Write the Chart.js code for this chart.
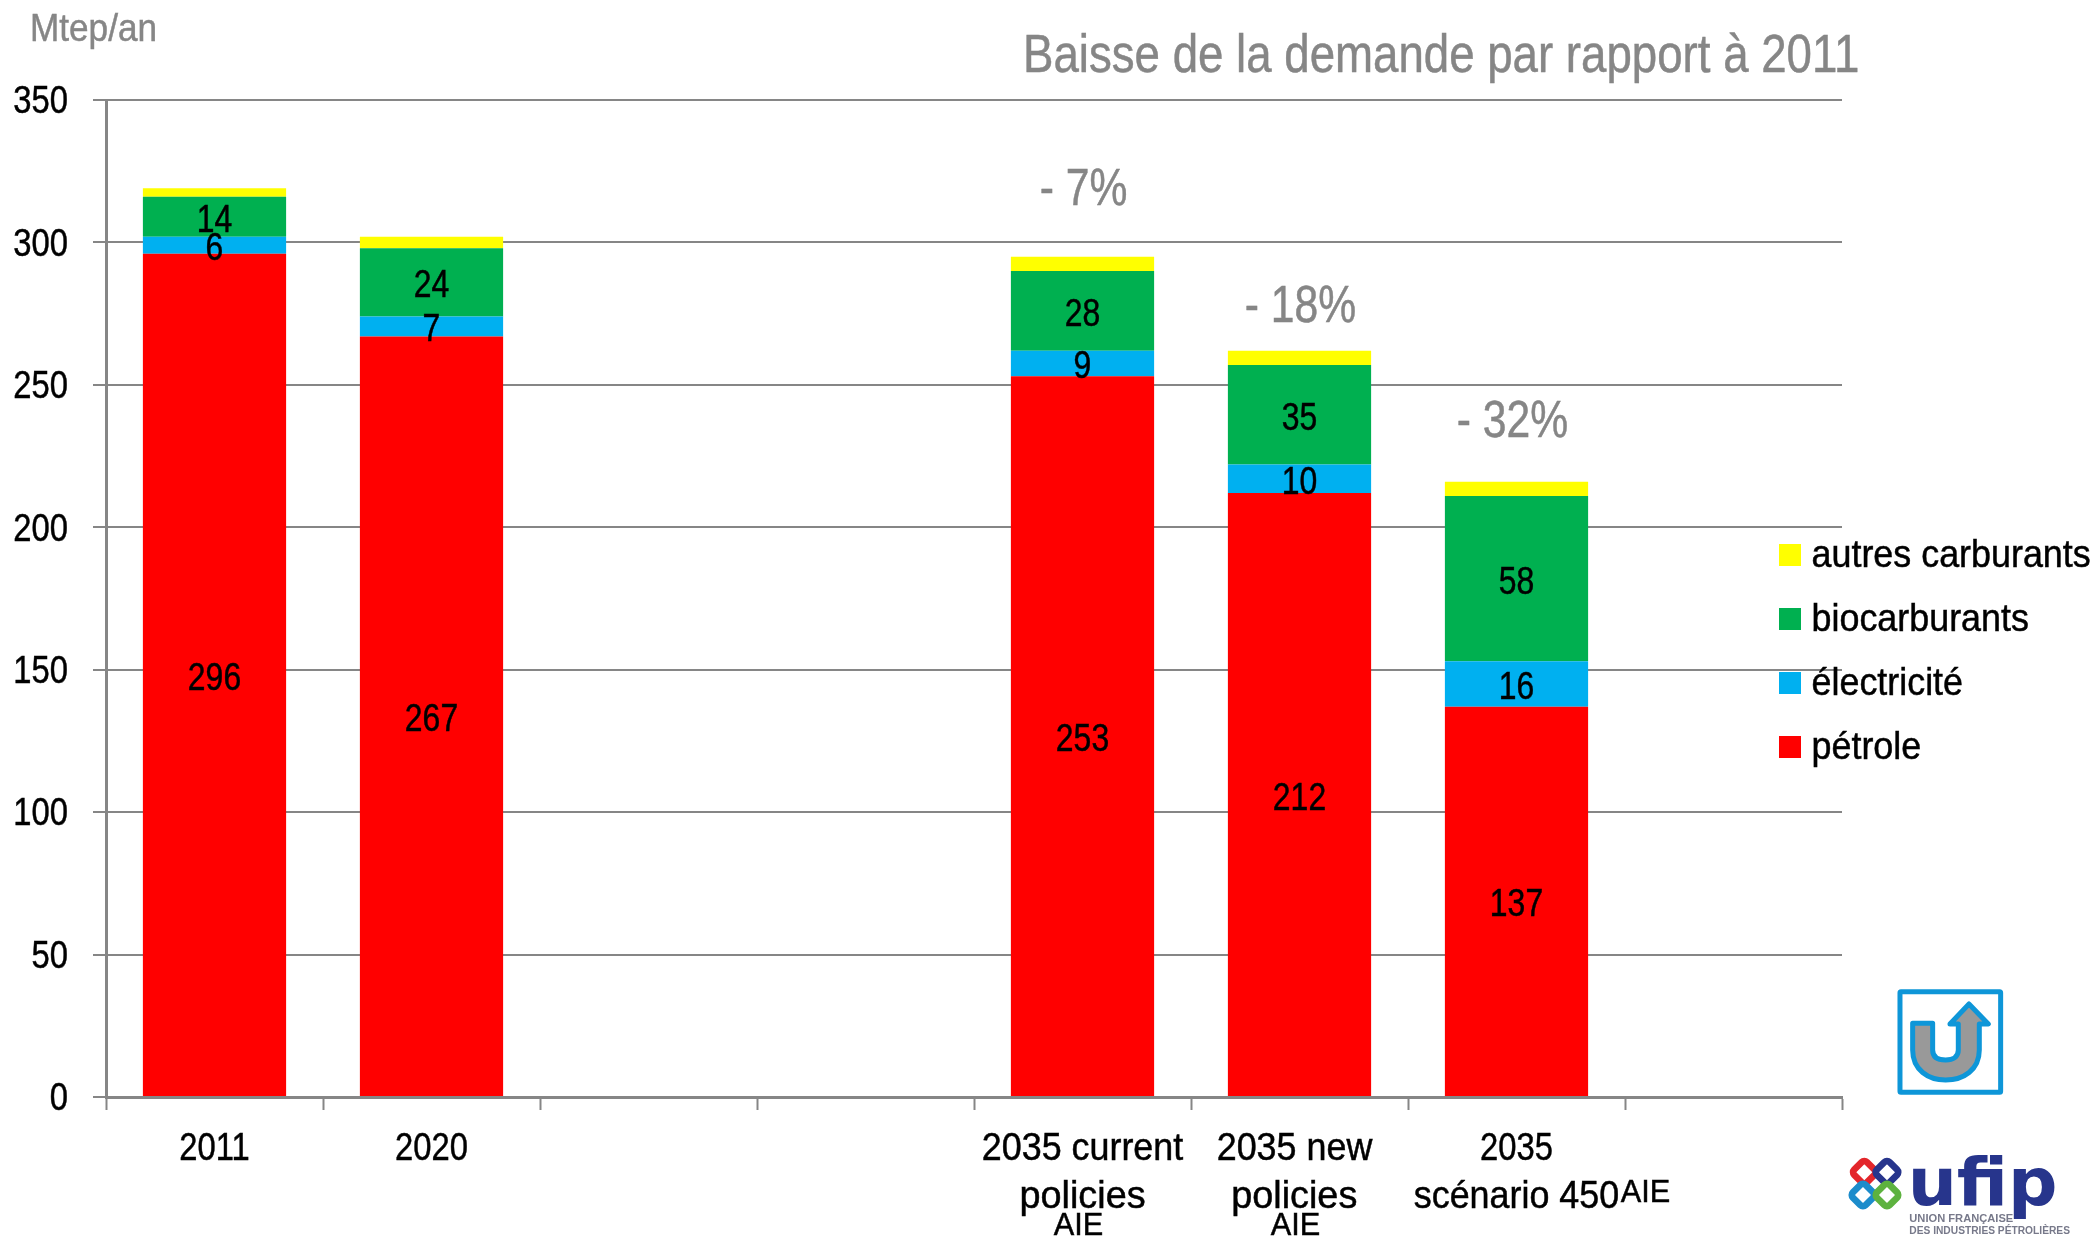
<!DOCTYPE html>
<html lang="fr">
<head>
<meta charset="utf-8">
<title>Baisse de la demande</title>
<script src="https://cdn.jsdelivr.net/npm/chart.js@4"></script>
<style>
html,body{margin:0;padding:0;background:#fff;width:2098px;height:1239px;overflow:hidden}
#c{position:absolute;left:0;top:0}
#logos{position:absolute;left:0;top:0;pointer-events:none}
</style>
</head>
<body>
<canvas id="c" width="2098" height="1239"></canvas>
<svg id="logos" width="2098" height="1239" viewBox="0 0 2098 1239">
  <g transform="translate(1740,950) scale(0.3333)">
    <rect x="480" y="125" width="302" height="302" fill="#fff" stroke="#0E96D8" stroke-width="15" rx="3"/>
    <path d="M518,220 L578,220 L578,300 C578,320 590,330 617,330 C640,330 655,320 655,300 L655,222 L630,222 L687,162 L745,222 L718,222 L718,300 C718,360 670,390 617,390 C565,390 518,360 518,300 Z" fill="#999" stroke="#0E96D8" stroke-width="15" stroke-linejoin="round"/>
    <g fill="none" stroke-width="20">
      <rect x="346" y="640" width="54" height="54" rx="11" transform="rotate(45 373 667)" stroke="#E3262B"/>
      <rect x="414" y="640" width="54" height="54" rx="11" transform="rotate(45 441 667)" stroke="#27358C"/>
      <rect x="342" y="708" width="54" height="54" rx="11" transform="rotate(45 369 735)" stroke="#1C8CCB"/>
      <rect x="414" y="708" width="54" height="54" rx="11" transform="rotate(45 441 735)" stroke="#5DB23F"/>
    </g>
    <text x="503" y="765" font-family="DejaVu Sans" font-weight="700" font-size="195" fill="#27358C" textLength="450" lengthAdjust="spacingAndGlyphs">ufip</text>
    <text x="508" y="817" font-family="Liberation Sans" font-weight="700" font-size="30" fill="#77798a" textLength="312" lengthAdjust="spacingAndGlyphs">UNION FRANÇAISE</text>
    <text x="508" y="852" font-family="Liberation Sans" font-weight="700" font-size="30" fill="#77798a" textLength="482" lengthAdjust="spacingAndGlyphs">DES INDUSTRIES PÉTROLIÈRES</text>
  </g>
</svg>
<script>
const FONT = '"Liberation Sans",sans-serif';
const GREY = '#868686';

const categories = [['2011'], ['2020'], '', '', ['2035 current', 'policies'], ['2035 new ', 'policies '], ['2035', 'scénario 450'], ''];
const seriesNames = ['pétrole', 'électricité', 'biocarburants', 'autres carburants'];
const petrole = [296, 267, null, null, 253, 212, 137, null];
const electricite = [6, 7, null, null, 9, 10, 16, null];
const biocarburants = [14, 24, null, null, 28, 35, 58, null];
const autres = [3, 4, null, null, 5, 5, 5, null];
const yTicks = [0, 50, 100, 150, 200, 250, 300, 350];
const baisseTexts = ['- 7%', '- 18%', '- 32%'];
const baisseCategory = [4, 5, 6];
const baisseLevel = [319, 278, 237.5];
const baisseNudge = [1, 1, -4];
const aieCategory = [4, 5, 6];
const titleText = 'Baisse de la demande par rapport à 2011';
const unitText = 'Mtep/an';

/* The reference uses a narrow face; none is installed, so the 2d context draws text condensed. */
const canvas = document.getElementById('c');
const ctx2d = canvas.getContext('2d');
function narrowFactor(text) {
  const t = String(text);
  if (t === titleText) return 0.861;
  if (t === unitText) return 0.925;
  if (t === 'AIE') return 0.96;
  if (/^policies/.test(t)) return 0.97;
  if (/^- /.test(t)) return 0.82;
  if (/^[0-9]+$/.test(t)) return 0.84;
  return 0.92;
}
const rawFill = ctx2d.fillText.bind(ctx2d);
const rawMeasure = ctx2d.measureText.bind(ctx2d);
ctx2d.fillText = function (text, x, y, maxWidth) {
  const k = narrowFactor(text);
  const dy = seriesNames.includes(text) ? 1 : 2.5;
  ctx2d.save();
  ctx2d.translate(x, y + dy);
  ctx2d.scale(k, 1);
  ctx2d.strokeStyle = ctx2d.fillStyle;
  ctx2d.lineWidth = 0.5;
  if (maxWidth === undefined) { rawFill(text, 0, 0); ctx2d.strokeText(text, 0, 0); }
  else { rawFill(text, 0, 0, maxWidth / k); ctx2d.strokeText(text, 0, 0, maxWidth / k); }
  ctx2d.restore();
};
ctx2d.measureText = function (text) {
  const m = rawMeasure(text);
  return { width: m.width * narrowFactor(text), actualBoundingBoxAscent: m.actualBoundingBoxAscent, actualBoundingBoxDescent: m.actualBoundingBoxDescent };
};

const placeBoxes = {
  id: 'placeBoxes',
  afterLayout(chart) {
    const lg = chart.legend, w = lg.width, h = lg.height;
    lg.left = 1763; lg.top = 510.5; lg.right = lg.left + w; lg.bottom = lg.top + h;
    const t = chart.titleBlock;
    t.left = 1023; t.right = 2090; t.top = 28.5; t.bottom = 81.5;
    const sub = chart.boxes.find(b => b.options && b.options.text === unitText);
    sub.left = 30; sub.right = 400; sub.top = 9; sub.bottom = 47;
  }
};

const valueLabels = {
  id: 'valueLabels',
  afterDatasetsDraw(chart) {
    const ctx = chart.ctx, xs = chart.scales.x, ys = chart.scales.y;
    ctx.save();
    ctx.textAlign = 'center';
    ctx.textBaseline = 'middle';
    ctx.fillStyle = '#000';
    ctx.font = '38px ' + FONT;
    [0, 1, 2].forEach(d => {
      chart.getDatasetMeta(d).data.forEach((el, i) => {
        const v = chart.data.datasets[d].data[i];
        if (v == null) return;
        const p = el.getCenterPoint();
        ctx.fillText(String(v), p.x, p.y + 2);
      });
    });
    ctx.fillStyle = GREY;
    ctx.font = '52px ' + FONT;
    baisseTexts.forEach((t, i) => {
      ctx.fillText(t, xs.getPixelForValue(baisseCategory[i]) + baisseNudge[i], ys.getPixelForValue(baisseLevel[i]));
    });
    ctx.fillStyle = '#000';
    ctx.font = '32px ' + FONT;
    ctx.fillText('AIE', xs.getPixelForValue(aieCategory[0]) - 4, 1224);
    ctx.fillText('AIE', xs.getPixelForValue(aieCategory[1]) - 4, 1224);
    ctx.fillText('AIE', xs.getPixelForValue(aieCategory[2]) + 129, 1191);
    ctx.restore();
  }
};

new Chart(canvas, {
  type: 'bar',
  data: {
    labels: categories,
    datasets: [
      { label: seriesNames[0], data: petrole, backgroundColor: '#FF0000' },
      { label: seriesNames[1], data: electricite, backgroundColor: '#00B0F0' },
      { label: seriesNames[2], data: biocarburants, backgroundColor: '#00B050' },
      { label: seriesNames[3], data: autres, backgroundColor: '#FFFF00' }
    ]
  },
  options: {
    responsive: false,
    animation: false,
    devicePixelRatio: 1,
    layout: { padding: { top: 9, right: 256, bottom: 0, left: 0 } },
    datasets: { bar: { categoryPercentage: 1, barPercentage: 0.66, borderWidth: 0 } },
    scales: {
      x: {
        stacked: true,
        border: { color: GREY, width: 3 },
        grid: { display: true, drawOnChartArea: false, drawTicks: true, tickLength: 13, color: GREY, tickColor: GREY, tickWidth: 2, offset: true },
        ticks: { color: '#000', font: { family: FONT, size: 39, lineHeight: 1.23 }, padding: 13, maxRotation: 0, minRotation: 0, autoSkip: false },
        afterFit(s) { s.height = 142; }
      },
      y: {
        stacked: true,
        min: 0,
        max: 350,
        border: { color: GREY, width: 3 },
        grid: { color: GREY, tickColor: GREY, lineWidth: 2, tickLength: 13 },
        ticks: { color: '#000', font: { family: FONT, size: 39 }, padding: 25, stepSize: 50, callback: v => yTicks.includes(v) ? String(v) : '' },
        afterFit(s) { s.width = 106; }
      }
    },
    plugins: {
      title: { display: true, text: titleText, align: 'start', color: GREY, padding: 0, font: { family: FONT, size: 53, weight: 'normal', lineHeight: 1 } },
      subtitle: { display: true, text: unitText, align: 'start', color: GREY, padding: 0, font: { family: FONT, size: 38, weight: 'normal', lineHeight: 1 } },
      legend: {
        display: true,
        position: 'chartArea',
        align: 'start',
        reverse: true,
        labels: {
          boxWidth: 4,
          boxHeight: 4,
          padding: 25,
          color: '#000',
          font: { family: FONT, size: 39, lineHeight: 1.23 },
          generateLabels(chart) {
            return Chart.defaults.plugins.legend.labels.generateLabels(chart).map(l => Object.assign(l, { lineWidth: 18, strokeStyle: l.fillStyle }));
          }
        }
      },
      tooltip: { enabled: false }
    }
  },
  plugins: [placeBoxes, valueLabels]
});
</script>
</body>
</html>
